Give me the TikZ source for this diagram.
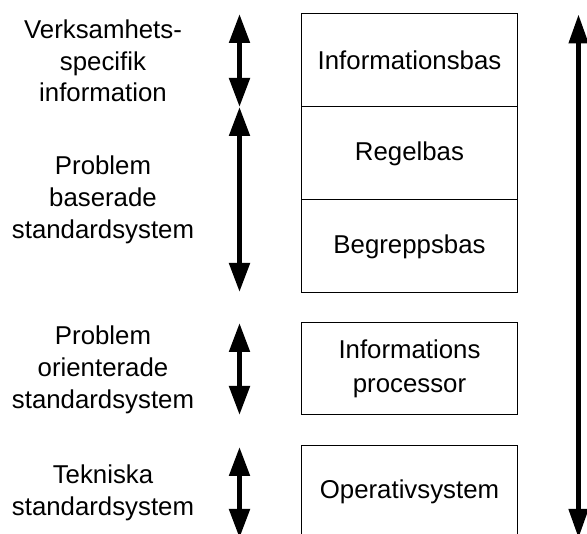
\documentclass[tikz,border=0pt]{standalone}
\usepackage{fontspec}
\setmainfont{Liberation Sans}
\usetikzlibrary{arrows.meta}
\begin{document}
\begin{tikzpicture}[x=1pt,y=-1pt,
  layerbox/.style={draw, line width=1pt, minimum width=216pt, inner sep=0pt,
    align=center, font=\fontsize{25.8}{34}\selectfont},
  sidetext/.style={align=center, inner sep=0pt, font=\fontsize{25.8}{31.7}\selectfont},
  levelarrow/.style={line width=5pt,
    {Triangle[width=20pt,length=29pt]}-{Triangle[width=20pt,length=29pt]}},
  fullarrow/.style={line width=4.5pt,
    {Triangle[width=19pt,length=29pt]}-{Triangle[width=19pt,length=29pt]}},
]
\clip (0,0) rectangle (587,534);

% stacked layers on the right
\node[layerbox, minimum height=93pt] (info)  at (409.5,60.5)  {Informationsbas};
\node[layerbox, minimum height=93pt] (regel) at (409.5,153.5) {Regelbas};
\node[layerbox, minimum height=93pt] (begr)  at (409.5,246.5) {Begreppsbas};
\node[layerbox, minimum height=92pt] (proc)  at (409.5,369)   {Informations\\processor};
\node[layerbox, minimum height=92pt] (os)    at (409.5,492)   {Operativsystem};

% captions on the left
\node[sidetext] (t1) at (103,61)  {Verksamhets-\\specifik\\information};
\node[sidetext] (t2) at (103,200) {Problem\\baserade\\standardsystem};
\node[sidetext] (t3) at (103,370) {Problem\\orienterade\\standardsystem};
\node[sidetext] (t4) at (103,493) {Tekniska\\standardsystem};

% end points of the range arrows
\coordinate (a1t) at (239.5,14);
\coordinate (a1b) at (239.5,107);
\coordinate (a2t) at (239.5,107);
\coordinate (a2b) at (239.5,292);
\coordinate (a3t) at (239.5,323);
\coordinate (a3b) at (239.5,415);
\coordinate (a4t) at (239.5,447);
\coordinate (a4b) at (239.5,538);
\coordinate (rt)  at (578.5,14.5);
\coordinate (rb)  at (578.5,538);

\draw[levelarrow] (a1t) -- (a1b);
\draw[levelarrow] (a2t) -- (a2b);
\draw[levelarrow] (a3t) -- (a3b);
\draw[levelarrow] (a4t) -- (a4b);
\draw[fullarrow] (rt) -- (rb);
\end{tikzpicture}
\end{document}
